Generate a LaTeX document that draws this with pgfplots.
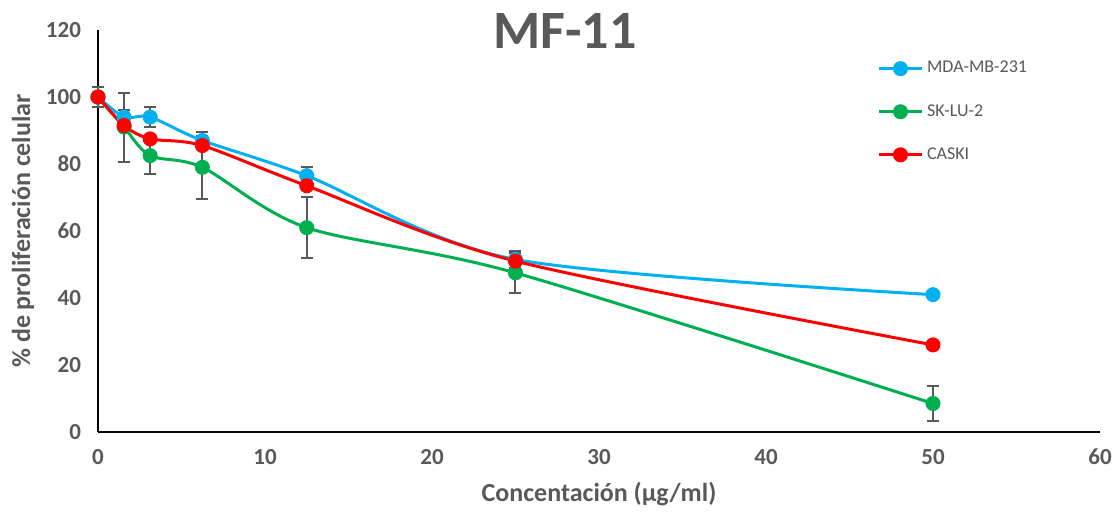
\documentclass[border=0pt]{standalone}
\usepackage{fontspec}
\setmainfont{Carlito}
\usepackage{pgfplots}
\pgfplotsset{compat=1.18}

\definecolor{cblue}{HTML}{00B0F0}
\definecolor{cgreen}{HTML}{00B050}
\definecolor{cred}{HTML}{FF0000}
\definecolor{txtgray}{HTML}{595959}

\begin{document}
\begin{tikzpicture}
  \path[use as bounding box] (-49pt,-41pt) rectangle (508pt,216pt);
  \begin{axis}[
    scale only axis,
    clip=false,
    width=501pt, height=201pt,
    xmin=0, xmax=60, ymin=0, ymax=120,
    xtick={0,10,...,60}, ytick={0,20,...,120},
    axis x line*=bottom, axis y line*=left,
    axis line style={black, line width=1pt, -},
    major tick length=0pt,
    /pgf/number format/assume math mode=true,
    tick label style={font=\fontsize{11.5}{13}\selectfont\bfseries, text=txtgray},
    xticklabel style={yshift=-5pt},
    yticklabel style={xshift=-5pt},
    xlabel={Concentación (µg/ml)},
    ylabel={\% de proliferación celular},
    label style={font=\fontsize{13}{15}\selectfont\bfseries, text=txtgray},
    xlabel style={yshift=-2pt},
    ylabel style={yshift=-1pt},
    legend style={at={(rel axis cs:0.772,0.943)}, anchor=north west, draw=none,
      fill=none, font=\fontsize{9}{11}\selectfont, text=txtgray,
      row sep=10.2pt, legend cell align=left},
    legend image code/.code={
      \draw[#1, mark=none] (0cm,0cm) -- (0.74cm,0cm);
      \draw[#1, only marks] plot coordinates {(0.37cm,0cm)};
    },
    every axis plot/.append style={line width=1.5pt, mark=*, mark size=3pt, smooth, tension=0.5},
    error bars/error bar style={txtgray, line width=1pt, solid},
    error bars/error mark options={rotate=90, mark size=3pt, line width=1pt, txtgray},
  ]
    \addplot[color=cblue, mark options={fill=cblue, draw=cblue},
      error bars/.cd, y dir=both, y explicit]
      coordinates {
        (0,100) +- (0,3)
        (1.5625,94) +- (0,2)
        (3.125,94) +- (0,3)
        (6.25,87) +- (0,2.5)
        (12.5,76.5) +- (0,2.5)
        (25,51.5) +- (0,2.5)
        (50,41) +- (0,1)
      };
    \addlegendentry{MDA-MB-231}

    \addplot[color=cgreen, mark options={fill=cgreen, draw=cgreen},
      error bars/.cd, y dir=both, y explicit]
      coordinates {
        (0,100) +- (0,3)
        (1.5625,91) +- (0,10.3)
        (3.125,82.5) +- (0,5.5)
        (6.25,79) +- (0,9.5)
        (12.5,61) +- (0,9)
        (25,47.5) +- (0,6)
        (50,8.5) +- (0,5.2)
      };
    \addlegendentry{SK-LU-2}

    \addplot[color=cred, mark options={fill=cred, draw=cred}]
      coordinates {
        (0,100) (1.5625,91.5) (3.125,87.5) (6.25,85.5)
        (12.5,73.5) (25,51) (50,26)
      };
    \addlegendentry{CASKI}

    \node[anchor=base, inner sep=0pt, font=\fontsize{27}{30}\selectfont\bfseries, text=txtgray]
      at (axis cs:27.96,114.6) {MF-11};
  \end{axis}
\end{tikzpicture}
\end{document}
